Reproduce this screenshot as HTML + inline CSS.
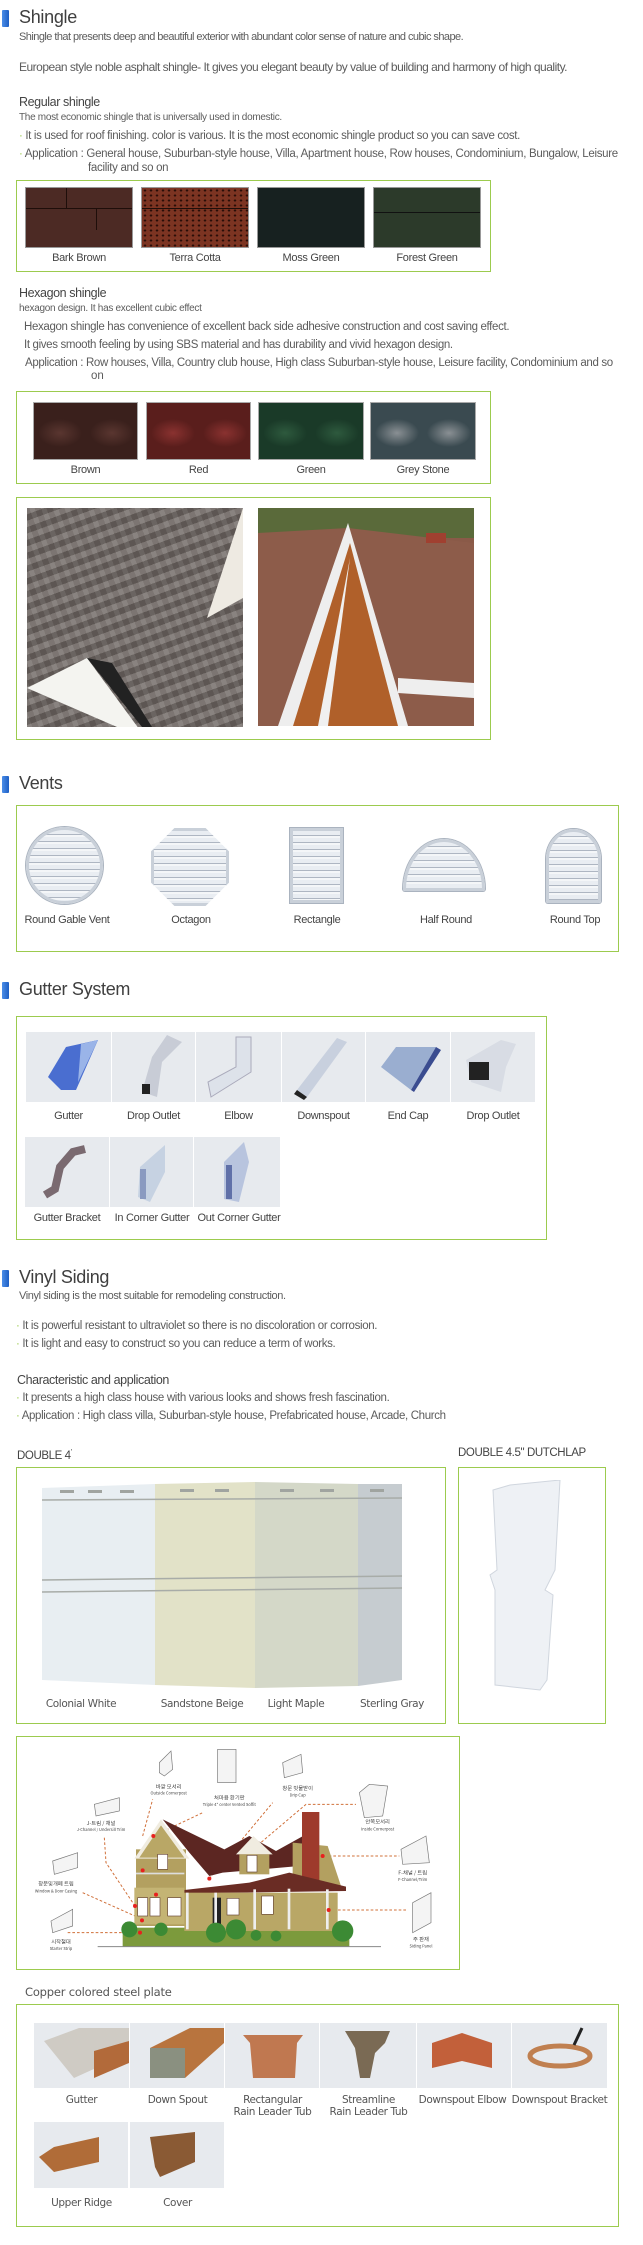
<!DOCTYPE html>
<html><head><meta charset="utf-8"><style>
*{margin:0;padding:0;box-sizing:border-box}
body{width:643px;height:2245px;background:#fff;position:relative;overflow:hidden;font-family:"Liberation Sans","Noto Sans CJK KR",sans-serif;color:#5c5c5c}
.a{position:absolute}
.t{position:absolute;white-space:nowrap;line-height:14px}
.bar{position:absolute;left:2px;width:7px;height:17px;background:linear-gradient(90deg,#4b8ee8,#1e5fc4);border-radius:1px}
.h{position:absolute;left:19px;font-size:18px;line-height:20px;color:#3f3f3f;letter-spacing:-0.3px;white-space:nowrap}
.box{position:absolute;border:1.5px solid #9ccb4e}
.lb{position:absolute;text-align:center;font-size:11px;line-height:13px;color:#444;letter-spacing:-0.3px;white-space:nowrap}
.lc{position:absolute;text-align:center;font-size:10.5px;line-height:12px;color:#555;white-space:nowrap;font-family:"DejaVu Sans",sans-serif;letter-spacing:-0.4px}
.tile{position:absolute;background:#e7eaee}
.vent{position:absolute;background:repeating-linear-gradient(180deg,#e9edf2 0 4px,#aeb6c2 4px 5px,#f4f6f8 5px 7px);border:3px solid #c9d0d9;box-shadow:0 0 0 1px #aab3bf}
</style></head><body>

<!-- SHINGLE -->
<div class="bar" style="top:10px"></div>
<div class="h" style="top:7px">Shingle</div>
<div class="t" style="left:19px;top:30px;font-size:11px;letter-spacing:-0.55px">Shingle that presents deep and beautiful exterior with abundant color sense of nature and cubic shape.</div>
<div class="t" style="left:19px;top:60px;font-size:12px;letter-spacing:-0.5px">European style noble asphalt shingle- It gives you elegant beauty by value of building and harmony of high quality.</div>
<div class="t" style="left:19px;top:95px;font-size:12.5px;letter-spacing:-0.4px;color:#444">Regular shingle</div>
<div class="t" style="left:19px;top:111px;font-size:10px;letter-spacing:-0.3px">The most economic shingle that is universally used in domestic.</div>
<div class="t" style="left:19px;top:129px;font-size:11.5px;letter-spacing:-0.35px"><span style="color:#9ccb4e">·</span> It is used for roof finishing. color is various. It is the most economic shingle product so you can save cost.</div>
<div class="t" style="left:19px;top:147px;font-size:11.5px;letter-spacing:-0.3px"><span style="color:#9ccb4e">·</span> Application : General house, Suburban-style house, Villa, Apartment house, Row houses, Condominium, Bungalow, Leisure</div>
<div class="t" style="left:88px;top:161px;font-size:11.5px;letter-spacing:-0.3px">facility and so on</div>

<div class="box" style="left:16px;top:180px;width:475px;height:92px"></div>
<div class="a" style="left:25px;top:187px;width:108px;height:61px;background:#4c2a24;border:1px solid #999;background-image:linear-gradient(#1e0e0a,#1e0e0a),linear-gradient(#1e0e0a,#1e0e0a),linear-gradient(#1e0e0a,#1e0e0a);background-size:100% 1px,1px 20px,1px 22px;background-position:0 20px,40px 0,70px 20px;background-repeat:no-repeat"></div>
<div class="a" style="left:141px;top:187px;width:108px;height:61px;background:#7c3422;border:1px solid #999;background-image:radial-gradient(#2a0e08 1px,transparent 1.5px),linear-gradient(#1e0e0a,#1e0e0a);background-size:6px 5px,100% 1px;background-position:0 0,0 20px;background-repeat:repeat,no-repeat"></div>
<div class="a" style="left:257px;top:187px;width:108px;height:61px;background:#172120;border:1px solid #999"></div>
<div class="a" style="left:373px;top:187px;width:108px;height:61px;background:#2c3a2a;border:1px solid #999;background-image:linear-gradient(#111,#111);background-size:100% 1px;background-position:0 24px;background-repeat:no-repeat"></div>
<div class="lb" style="left:25px;top:252px;width:108px">Bark Brown</div>
<div class="lb" style="left:141px;top:252px;width:108px">Terra Cotta</div>
<div class="lb" style="left:257px;top:252px;width:108px">Moss Green</div>
<div class="lb" style="left:373px;top:252px;width:108px">Forest Green</div>

<div class="t" style="left:19px;top:286px;font-size:12.5px;letter-spacing:-0.4px;color:#444">Hexagon shingle</div>
<div class="t" style="left:19px;top:302px;font-size:10px;letter-spacing:-0.3px">hexagon design. It has excellent cubic effect</div>
<div class="t" style="left:24px;top:320px;font-size:11.5px;letter-spacing:-0.35px">Hexagon shingle has convenience of excellent back side adhesive construction and cost saving effect.</div>
<div class="t" style="left:24px;top:338px;font-size:11.5px;letter-spacing:-0.35px">It gives smooth feeling by using SBS material and has durability and vivid hexagon design.</div>
<div class="t" style="left:25px;top:356px;font-size:11.5px;letter-spacing:-0.35px">Application : Row houses, Villa, Country club house, High class Suburban-style house, Leisure facility, Condominium and so</div>
<div class="t" style="left:91px;top:369px;font-size:11.5px">on</div>

<div class="box" style="left:16px;top:391px;width:475px;height:93px"></div>
<div class="a" style="left:33px;top:402px;width:105px;height:58px;background:radial-gradient(ellipse 22px 14px at 26px 30px,#5a3630,#3a201c);background-size:52px 58px;border:1px solid #aaa"></div>
<div class="a" style="left:146px;top:402px;width:105px;height:58px;background:radial-gradient(ellipse 22px 14px at 26px 30px,#8a3230,#5a1e1c);background-size:52px 58px;border:1px solid #aaa"></div>
<div class="a" style="left:258px;top:402px;width:106px;height:58px;background:radial-gradient(ellipse 22px 14px at 26px 30px,#2e5a3e,#1a3a28);background-size:52px 58px;border:1px solid #aaa"></div>
<div class="a" style="left:370px;top:402px;width:106px;height:58px;background:radial-gradient(ellipse 22px 14px at 26px 30px,#8a9094,#3a4a50);background-size:52px 58px;border:1px solid #aaa"></div>
<div class="lb" style="left:33px;top:464px;width:105px">Brown</div>
<div class="lb" style="left:146px;top:464px;width:105px">Red</div>
<div class="lb" style="left:258px;top:464px;width:106px">Green</div>
<div class="lb" style="left:370px;top:464px;width:106px">Grey Stone</div>

<div class="box" style="left:16px;top:497px;width:475px;height:243px"></div>
<div class="a" style="left:27px;top:508px;width:216px;height:219px;overflow:hidden;background:#6a625e;background-image:repeating-linear-gradient(160deg,rgba(255,255,255,.12) 0 6px,rgba(0,0,0,.12) 6px 12px),repeating-linear-gradient(70deg,rgba(255,255,255,.1) 0 5px,transparent 5px 11px)">
<svg width="216" height="219" style="position:absolute;left:0;top:0"><polygon points="216,0 216,90 180,110" fill="#eeeae2"/><polygon points="0,180 60,150 115,225 90,219" fill="#f4f4f0"/><polygon points="60,150 85,155 125,219 115,219" fill="#222"/></svg></div>
<div class="a" style="left:258px;top:508px;width:216px;height:218px;overflow:hidden;background:#8a5a48">
<svg width="216" height="218" style="position:absolute;left:0;top:0"><rect width="216" height="30" fill="#5a6a3a"/><polygon points="0,25 90,20 216,35 216,218 0,218" fill="#8d5c4a"/><polygon points="90,15 20,218 150,218" fill="#eee"/><polygon points="92,35 35,218 140,218" fill="#b0602a"/><polygon points="92,50 60,218 70,218" fill="#f0f0f0"/><polygon points="140,170 216,175 216,190 140,185" fill="#eee"/><rect x="168" y="25" width="20" height="10" fill="#a04030"/></svg></div>

<!-- VENTS -->
<div class="bar" style="top:776px"></div>
<div class="h" style="top:773px">Vents</div>
<div class="box" style="left:16px;top:805px;width:603px;height:147px"></div>
<div class="vent" style="left:26px;top:827px;width:77px;height:77px;border-radius:50%"></div>
<div class="vent" style="left:151px;top:828px;width:78px;height:78px;clip-path:polygon(30% 0,70% 0,100% 30%,100% 70%,70% 100%,30% 100%,0 70%,0 30%)"></div>
<div class="vent" style="left:290px;top:828px;width:53px;height:75px;border-radius:0"></div>
<div class="vent" style="left:403px;top:839px;width:82px;height:52px;border-radius:41px 41px 2px 2px/50px 50px 2px 2px"></div>
<div class="vent" style="left:546px;top:829px;width:55px;height:74px;border-radius:27px 27px 2px 2px/30px 30px 2px 2px"></div>
<div class="lb" style="left:17px;top:914px;width:100px">Round Gable Vent</div>
<div class="lb" style="left:141px;top:914px;width:100px">Octagon</div>
<div class="lb" style="left:267px;top:914px;width:100px">Rectangle</div>
<div class="lb" style="left:396px;top:914px;width:100px">Half Round</div>
<div class="lb" style="left:525px;top:914px;width:100px">Round Top</div>

<!-- GUTTER -->
<div class="bar" style="top:982px"></div>
<div class="h" style="top:979px">Gutter System</div>
<div class="box" style="left:16px;top:1016px;width:531px;height:224px"></div>
<div class="tile" style="left:26px;top:1032px;width:85px;height:70px"><svg width="85" height="70"><polygon points="40,15 72,8 50,58 35,58 22,45" fill="#4a6ed0"/><polygon points="55,12 72,8 52,50" fill="#9ab4e8"/></svg></div>
<div class="tile" style="left:112px;top:1032px;width:83px;height:70px"><svg width="83" height="70"><polygon points="55,3 70,10 50,30 45,65 30,60 40,25" fill="#c8ccd6"/><rect x="30" y="52" width="8" height="10" fill="#222"/></svg></div>
<div class="tile" style="left:196px;top:1032px;width:85px;height:70px"><svg width="85" height="70"><polygon points="40,5 55,5 55,40 15,65 12,50 40,35" fill="#dde2ea" stroke="#aab" /></svg></div>
<div class="tile" style="left:282px;top:1032px;width:83px;height:70px"><svg width="83" height="70"><polygon points="55,6 65,10 25,65 15,58" fill="#c8d0de"/><polygon points="15,58 25,65 22,68 12,62" fill="#222"/></svg></div>
<div class="tile" style="left:366px;top:1032px;width:84px;height:70px"><svg width="84" height="70"><polygon points="15,35 30,15 70,15 45,58" fill="#9aaed0"/><polygon points="70,15 75,18 48,60 45,58" fill="#3a4c90"/></svg></div>
<div class="tile" style="left:451px;top:1032px;width:84px;height:70px"><svg width="84" height="70"><polygon points="50,8 65,12 55,35 50,60 20,50 15,28" fill="#d8dce4"/><rect x="18" y="30" width="20" height="18" fill="#222"/></svg></div>
<div class="lb" style="left:26px;top:1110px;width:85px">Gutter</div>
<div class="lb" style="left:112px;top:1110px;width:83px">Drop Outlet</div>
<div class="lb" style="left:196px;top:1110px;width:85px">Elbow</div>
<div class="lb" style="left:282px;top:1110px;width:83px">Downspout</div>
<div class="lb" style="left:366px;top:1110px;width:84px">End Cap</div>
<div class="lb" style="left:451px;top:1110px;width:84px">Drop Outlet</div>
<div class="tile" style="left:25px;top:1137px;width:84px;height:70px"><svg width="84" height="70"><polyline points="20,58 30,52 35,30 48,15 60,12" fill="none" stroke="#7a6a70" stroke-width="8"/></svg></div>
<div class="tile" style="left:110px;top:1137px;width:83px;height:70px"><svg width="83" height="70"><polygon points="30,30 55,8 55,35 40,65 28,60" fill="#c6d2e2"/><rect x="30" y="32" width="6" height="30" fill="#8a9ac0"/></svg></div>
<div class="tile" style="left:194px;top:1137px;width:86px;height:70px"><svg width="86" height="70"><polygon points="30,25 50,5 55,25 45,65 30,62" fill="#b8c4de"/><rect x="32" y="28" width="6" height="34" fill="#6070a8"/></svg></div>
<div class="lb" style="left:15px;top:1212px;width:104px">Gutter Bracket</div>
<div class="lb" style="left:100px;top:1212px;width:104px">In Corner Gutter</div>
<div class="lb" style="left:187px;top:1212px;width:104px">Out Corner Gutter</div>

<!-- VINYL -->
<div class="bar" style="top:1270px"></div>
<div class="h" style="top:1267px">Vinyl Siding</div>
<div class="t" style="left:19px;top:1289px;font-size:11px;letter-spacing:-0.4px">Vinyl siding is the most suitable for remodeling construction.</div>
<div class="t" style="left:16px;top:1319px;font-size:11.5px;letter-spacing:-0.35px"><span style="color:#9ccb4e">·</span> It is powerful resistant to ultraviolet so there is no discoloration or corrosion.</div>
<div class="t" style="left:16px;top:1337px;font-size:11.5px;letter-spacing:-0.35px"><span style="color:#9ccb4e">·</span> It is light and easy to construct so you can reduce a term of works.</div>
<div class="t" style="left:17px;top:1373px;font-size:12.5px;letter-spacing:-0.4px;color:#444">Characteristic and application</div>
<div class="t" style="left:16px;top:1391px;font-size:11.5px;letter-spacing:-0.35px"><span style="color:#9ccb4e">·</span> It presents a high class house with various looks and shows fresh fascination.</div>
<div class="t" style="left:16px;top:1409px;font-size:11.5px;letter-spacing:-0.35px"><span style="color:#9ccb4e">·</span> Application : High class villa, Suburban-style house, Prefabricated house, Arcade, Church</div>
<div class="t" style="left:17px;top:1446px;font-size:11.5px;letter-spacing:-0.4px;color:#444">DOUBLE 4<sup style="font-size:7px">'</sup></div>
<div class="t" style="left:458px;top:1446px;font-size:11.5px;letter-spacing:-0.4px;color:#444">DOUBLE 4.5" DUTCHLAP</div>

<div class="box" style="left:16px;top:1467px;width:430px;height:257px"></div>
<svg class="a" style="left:40px;top:1480px" width="365" height="215">
<polygon points="2,8 115,4 115,205 2,200" fill="#e8eef2"/>
<polygon points="115,4 215,2 215,208 115,205" fill="#e2e2c8"/>
<polygon points="215,2 318,4 318,206 215,208" fill="#d4d8c8"/>
<polygon points="318,4 362,4 362,200 318,206" fill="#c6ccd0"/>
<g stroke="#a8aca8" stroke-width="1.5"><line x1="2" y1="20" x2="362" y2="18"/><line x1="2" y1="100" x2="362" y2="96"/><line x1="2" y1="112" x2="362" y2="108"/></g>
<g fill="#a0a4a0"><rect x="20" y="10" width="14" height="3"/><rect x="48" y="10" width="14" height="3"/><rect x="80" y="10" width="14" height="3"/><rect x="140" y="9" width="14" height="3"/><rect x="175" y="9" width="14" height="3"/><rect x="240" y="9" width="14" height="3"/><rect x="280" y="9" width="14" height="3"/><rect x="330" y="9" width="14" height="3"/></g>
</svg>
<div class="lc" style="left:22px;top:1698px;width:118px">Colonial White</div>
<div class="lc" style="left:143px;top:1698px;width:118px">Sandstone Beige</div>
<div class="lc" style="left:237px;top:1698px;width:118px">Light Maple</div>
<div class="lc" style="left:333px;top:1698px;width:118px">Sterling Gray</div>
<div class="box" style="left:458px;top:1467px;width:148px;height:257px"></div>
<svg class="a" style="left:485px;top:1480px" width="80" height="220"><polygon points="25,5 75,0 70,90 60,110 68,115 62,200 55,210 10,205 10,110 5,95 12,90 8,10" fill="#eef1f5" stroke="#d0d6de"/></svg>

<!-- HOUSE DIAGRAM -->
<div class="box" style="left:16px;top:1736px;width:444px;height:234px"></div>
<svg class="a" style="left:16px;top:1736px" width="444" height="234" viewBox="0 0 1332 702" font-family="'Noto Sans CJK KR',sans-serif" fill="#444" text-anchor="middle">
<g stroke="#d0703a" stroke-width="3" stroke-dasharray="8,6" fill="none">
<polyline points="380,300 410,190"/><polyline points="412,300 560,230"/><polyline points="580,428 770,200"/><polyline points="640,400 870,205 1020,205"/><polyline points="938,360 1150,360"/><polyline points="938,522 1170,522"/><polyline points="265,305 270,380 357,510"/><polyline points="200,470 357,540"/><polyline points="155,590 372,590"/>
</g>
<rect x="320" y="575" width="680" height="57" fill="#7c9a3c"/>
<line x1="245" y1="632" x2="1095" y2="632" stroke="#888" stroke-width="3"/>
<rect x="360" y="340" width="150" height="230" fill="#b3a060"/>
<polygon points="355,368 435,250 520,368" fill="#f0ece0"/>
<polygon points="370,365 435,268 505,365" fill="#b9a766"/>
<polygon points="440,250 625,340 700,300 780,345 870,295 850,390 620,410 580,420 520,350" fill="#5c2622"/>
<polygon points="660,355 712,300 770,355" fill="#f0ece0"/>
<rect x="670" y="355" width="90" height="60" fill="#b3a060"/>
<polygon points="830,320 935,330 975,450 830,455" fill="#b3a060"/>
<rect x="858" y="228" width="52" height="210" fill="#9e3a2c"/>
<polygon points="505,462 700,440 820,410 990,452 990,465 505,472" fill="#6a2c24"/>
<rect x="505" y="470" width="460" height="115" fill="#b9a766"/>
<rect x="355" y="455" width="150" height="110" fill="#c4b474"/>
<g fill="#fff" stroke="#6a4a3a" stroke-width="2"><rect x="425" y="355" width="30" height="45"/><rect x="693" y="358" width="30" height="50"/><rect x="365" y="485" width="30" height="55"/><rect x="402" y="485" width="30" height="55"/><rect x="455" y="485" width="40" height="55"/><rect x="633" y="487" width="36" height="50"/><rect x="737" y="480" width="35" height="55"/></g>
<rect x="590" y="485" width="25" height="80" fill="#222"/>
<g fill="#eee"><rect x="510" y="470" width="8" height="110"/><rect x="595" y="470" width="8" height="110"/><rect x="712" y="460" width="8" height="120"/><rect x="815" y="458" width="8" height="122"/><rect x="930" y="460" width="8" height="120"/></g>
<rect x="360" y="410" width="145" height="5" fill="#ddd"/>
<g fill="#3c8a34"><circle cx="340" cy="580" r="24"/><circle cx="435" cy="580" r="20"/><circle cx="600" cy="590" r="30"/><circle cx="660" cy="580" r="30"/><circle cx="720" cy="598" r="16"/><circle cx="780" cy="600" r="16"/><circle cx="980" cy="585" r="32"/></g>
<g fill="#e8201e"><circle cx="412" cy="300" r="6"/><circle cx="380" cy="403" r="6"/><circle cx="580" cy="428" r="6"/><circle cx="420" cy="476" r="6"/><circle cx="357" cy="510" r="6"/><circle cx="378" cy="553" r="6"/><circle cx="372" cy="590" r="6"/><circle cx="920" cy="360" r="6"/><circle cx="938" cy="522" r="6"/></g>
<g fill="#f4f4f4" stroke="#777" stroke-width="2">
<polygon points="430,80 465,45 470,100 445,120 430,110"/><rect x="605" y="40" width="55" height="100"/><polygon points="800,80 855,55 860,110 805,125"/><polygon points="1030,170 1060,145 1115,150 1100,240 1045,245"/><polygon points="235,205 310,185 310,225 240,240"/><polygon points="1155,340 1230,300 1240,380 1160,385"/><polygon points="110,375 185,350 185,395 115,415"/><polygon points="105,555 170,520 170,570 110,590"/><polygon points="1190,500 1245,470 1245,560 1190,590"/></g>
<g font-size="16"><text x="458" y="157">바깥 모서리</text><text x="640" y="190">처마용 환기판</text><text x="845" y="162">창문 빗물받이</text><text x="1085" y="263">안쪽모서리</text><text x="255" y="267">J-트림 / 채널</text><text x="1190" y="415">F-채널 / 트림</text><text x="120" y="448">창문및개폐 트림</text><text x="135" y="622">시작철대</text><text x="1215" y="615">주 판재</text></g>
<g font-size="12"><text x="458" y="175">Outside Cornerpost</text><text x="640" y="210">Triple 4" center Vented Soffit</text><text x="845" y="182">Drip Cap</text><text x="1085" y="283">Inside Cornerpost</text><text x="255" y="285">J-Channel / Undersill Trim</text><text x="1190" y="435">F-Channel/Trim</text><text x="120" y="470">Window &amp; Door Casing</text><text x="135" y="642">Starter Strip</text><text x="1215" y="635">Siding Panel</text></g>
</svg>

<!-- COPPER -->
<div class="t" style="left:25px;top:1985px;font-size:11.5px;letter-spacing:-0.2px;font-family:'DejaVu Sans',sans-serif;color:#555">Copper colored steel plate</div>
<div class="box" style="left:16px;top:2004px;width:603px;height:223px"></div>
<div class="tile" style="left:34px;top:2023px;width:95px;height:65px"><svg width="95" height="65"><polygon points="10,18 45,5 95,5 95,30 40,55" fill="#cfcbc4"/><polygon points="60,28 95,18 95,40 60,55" fill="#b26a3a"/></svg></div>
<div class="tile" style="left:130px;top:2023px;width:94px;height:65px"><svg width="94" height="65"><polygon points="20,25 60,5 94,5 94,20 55,55 20,55" fill="#b8743e"/><polygon points="20,25 55,25 55,55 20,55" fill="#8a9080"/></svg></div>
<div class="tile" style="left:225px;top:2023px;width:94px;height:65px"><svg width="94" height="65"><polygon points="18,12 78,12 72,20 70,55 28,55 25,20" fill="#c07850"/></svg></div>
<div class="tile" style="left:320px;top:2023px;width:96px;height:65px"><svg width="96" height="65"><polygon points="25,8 70,8 65,20 55,30 50,55 40,55 35,25" fill="#7a6a54"/></svg></div>
<div class="tile" style="left:417px;top:2023px;width:94px;height:65px"><svg width="94" height="65"><polygon points="15,20 45,10 75,20 75,45 45,38 15,45" fill="#c2603a"/></svg></div>
<div class="tile" style="left:512px;top:2023px;width:95px;height:65px"><svg width="95" height="65"><ellipse cx="48" cy="33" rx="30" ry="10" fill="none" stroke="#c08050" stroke-width="5"/><line x1="62" y1="22" x2="70" y2="5" stroke="#222" stroke-width="3"/></svg></div>
<div class="lc" style="left:24px;top:2094px;width:115px">Gutter</div>
<div class="lc" style="left:120px;top:2094px;width:115px">Down Spout</div>
<div class="lc" style="left:215px;top:2094px;width:115px">Rectangular<br>Rain Leader Tub</div>
<div class="lc" style="left:311px;top:2094px;width:115px">Streamline<br>Rain Leader Tub</div>
<div class="lc" style="left:405px;top:2094px;width:115px">Downspout Elbow</div>
<div class="lc" style="left:502px;top:2094px;width:115px">Downspout Bracket</div>
<div class="tile" style="left:34px;top:2122px;width:94px;height:66px"><svg width="94" height="66"><polygon points="5,35 20,25 65,15 65,40 20,50" fill="#b06c38"/></svg></div>
<div class="tile" style="left:130px;top:2122px;width:94px;height:66px"><svg width="94" height="66"><polygon points="20,15 65,10 65,40 30,55 25,45" fill="#8a5a34"/></svg></div>
<div class="lc" style="left:24px;top:2197px;width:115px">Upper Ridge</div>
<div class="lc" style="left:120px;top:2197px;width:115px">Cover</div>
</body></html>
